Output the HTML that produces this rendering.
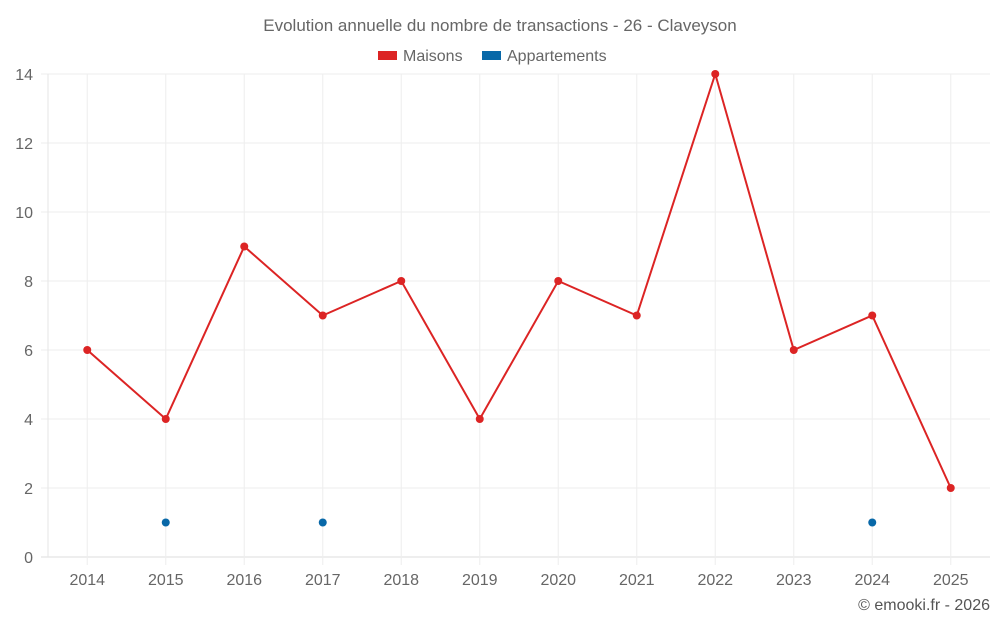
<!DOCTYPE html>
<html><head><meta charset="utf-8"><style>
body{margin:0;background:#fff;font-family:"Liberation Sans",sans-serif}
svg text{font-family:"Liberation Sans",sans-serif}
</style></head><body>
<svg id="c" width="1000" height="625" xmlns="http://www.w3.org/2000/svg">
<text x="500" y="31" text-anchor="middle" font-size="17" fill="#666">Evolution annuelle du nombre de transactions - 26 - Claveyson</text>
<g><rect x="378" y="51" width="19" height="9" fill="#dc2424"/><text x="403" y="61" font-size="16" fill="#666">Maisons</text></g>
<g><rect x="482" y="51" width="19" height="9" fill="#0868a8"/><text x="507" y="61" font-size="16" fill="#666">Appartements</text></g>
<g id="grid"></g><g id="marks"></g>
<text x="990" y="610" text-anchor="end" font-size="16" fill="#555">© emooki.fr - 2026</text>
</svg>
<script>
const years=["2014","2015","2016","2017","2018","2019","2020","2021","2022","2023","2024","2025"];
const maisons=[6,4,9,7,8,4,8,7,14,6,7,2];
const appartements=[null,1,null,1,null,null,null,null,null,null,1,null];
const yTicks=[0,2,4,6,8,10,12,14];
const L=48,R=990,T=74,B=557,ymax=14;
const ns="http://www.w3.org/2000/svg";
const bw=(R-L)/years.length;
const xs=i=>L+bw*(i+0.5);
const ys=v=>B-(v/ymax)*(B-T);
const g=document.getElementById('grid'),m=document.getElementById('marks');
function el(t,a,p){const e=document.createElementNS(ns,t);for(const k in a)e.setAttribute(k,a[k]);p.appendChild(e);return e;}
yTicks.forEach(v=>{
 const l=el('line',{x1:41,x2:R,y1:ys(v),y2:ys(v),stroke:v===0?'#ddd':'#eee'},g);
 
 
 const t=el('text',{x:33,y:ys(v)+6,'text-anchor':'end','font-size':16,fill:'#666'},g);t.textContent=v;
 
 
});
const ya=el('line',{x1:L,x2:L,y1:T,y2:B,stroke:'#e6e6e6'},g);


years.forEach((y,i)=>{
 const l=el('line',{x1:xs(i),x2:xs(i),y1:T,y2:565,stroke:'#eee'},g);
 
 
 const t=el('text',{x:xs(i),y:585,'text-anchor':'middle','font-size':16,fill:'#666'},g);t.textContent=y;
 
 
});
const pts=maisons.map((v,i)=>xs(i)+','+ys(v)).join(' ');
const pl=el('polyline',{points:pts,fill:'none',stroke:'#dc2424','stroke-width':2},m);


maisons.forEach((v,i)=>{const c=el('circle',{cx:xs(i),cy:ys(v),r:4,fill:'#dc2424'},m);
 
 });
appartements.forEach((v,i)=>{if(v===null)return;const c=el('circle',{cx:xs(i),cy:ys(v),r:4,fill:'#0868a8'},m);
 
 });
</script>
</body></html>
